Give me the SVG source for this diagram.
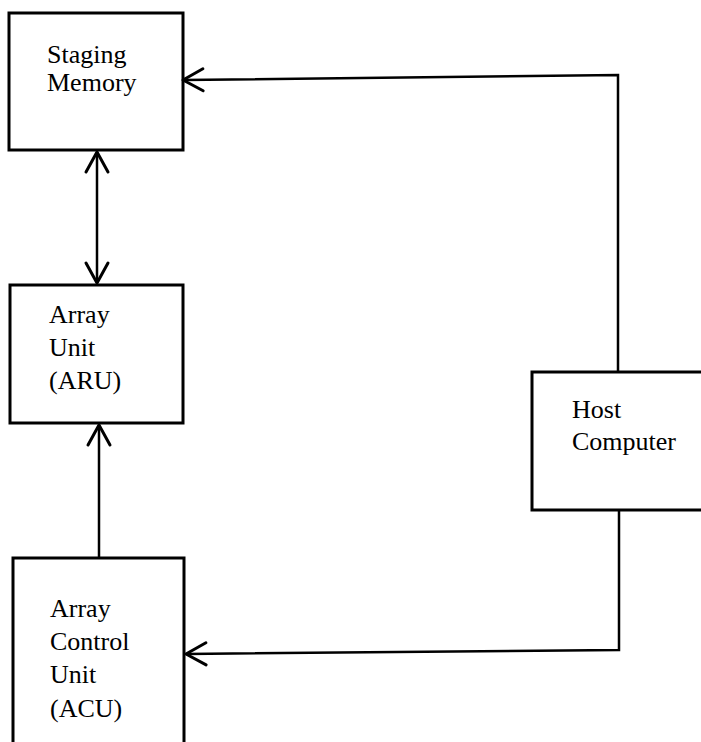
<svg xmlns="http://www.w3.org/2000/svg" width="701" height="742" viewBox="0 0 701 742">
<style>
.box{fill:none;stroke:#000;stroke-width:3;stroke-linejoin:miter}
.conn{fill:none;stroke:#000;stroke-width:2.5}
.t{font-family:"Liberation Serif","Times New Roman",serif;font-size:26px;fill:#000}
</style>
<defs>
<marker id="ah" markerUnits="userSpaceOnUse" markerWidth="30" markerHeight="30" viewBox="-25 -15 30 30" refX="0" refY="0" orient="auto-start-reverse" overflow="visible">
<path d="M-20,-11 L0,0 L-20,11" fill="none" stroke="#000" stroke-width="3" stroke-linecap="round" stroke-linejoin="round"/>
</marker>
</defs>
<rect width="701" height="742" fill="#fff"/>
<g id="connectors">
<path class="conn" d="M97,152 L97,283" marker-start="url(#ah)" marker-end="url(#ah)"/>
<path class="conn" d="M99,558 L99,425" marker-end="url(#ah)"/>
<path class="conn" stroke-width="3" d="M618,372 L618,75 L183,80" marker-end="url(#ah)"/>
<path class="conn" stroke-width="3" d="M619,510 L619,650 L186,654" marker-end="url(#ah)"/>
</g>
<g id="staging-memory">
<rect class="box" x="9" y="13" width="174" height="137"/>
<text class="t" x="47" y="63">Staging</text>
<text class="t" x="47" y="91">Memory</text>
</g>
<g id="array-unit">
<rect class="box" x="10" y="285" width="173" height="138"/>
<text class="t" x="49" y="323">Array</text>
<text class="t" x="49" y="356">Unit</text>
<text class="t" x="49" y="389">(ARU)</text>
</g>
<g id="array-control-unit">
<path class="box" d="M13,746 L13,558 L184,558 L184,746"/>
<text class="t" x="50" y="617">Array</text>
<text class="t" x="50" y="650">Control</text>
<text class="t" x="50" y="683">Unit</text>
<text class="t" x="50" y="717">(ACU)</text>
</g>
<g id="host-computer">
<path class="box" d="M705,372 L532,372 L532,510 L705,510"/>
<text class="t" x="572" y="418">Host</text>
<text class="t" x="572" y="450">Computer</text>
</g>
</svg>
